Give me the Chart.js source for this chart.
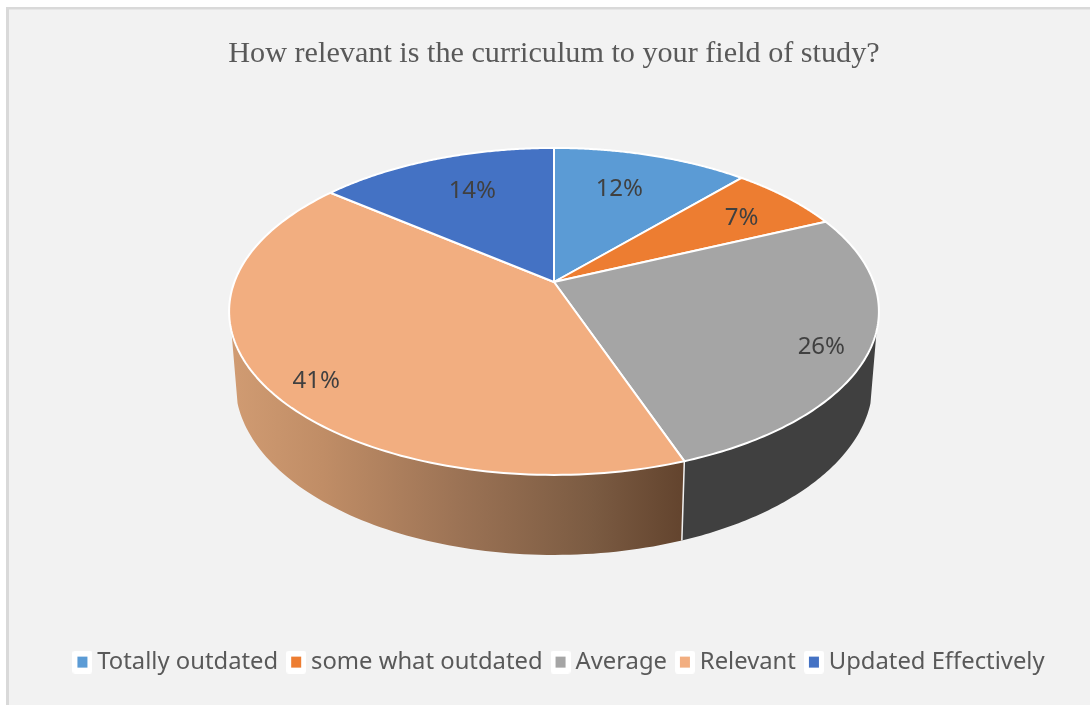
<!DOCTYPE html>
<html>
<head>
<meta charset="utf-8">
<style>
html,body{margin:0;padding:0;background:#fff;}
#wrap{position:absolute;left:0;top:0;width:1090px;height:705px;}
</style>
<script src="https://cdn.jsdelivr.net/npm/chart.js@4"></script>
</head>
<body>
<div id="wrap"><canvas id="c" width="1090" height="705"></canvas></div>
<script>
const chartTitle = "How relevant is the curriculum to your field of study?";
const categories = ["Totally outdated", "some what outdated", "Average", "Relevant", "Updated Effectively"];
const values = [11.6, 6.7, 26.2, 41.3, 14.2];
const sliceColors = ["#5b9bd5", "#ed7d31", "#a5a5a5", "#f2ae80", "#4472c4"];

const view = {cx: 554, topY: 282, topA: 158.2, topB: 319.6, baseY: 352, baseA: 166.4, baseB: 313.5, k: 0.18};
const rimFrom = 107 * Math.PI / 180, rimTo = 253 * Math.PI / 180;
const labelFont = '24px "Noto Sans"';
const labelSpots = [[0.7, -6, 0], [0.77, 4, 3], [0.8, 18, 13], [0.85, 5, 14], [0.7, 5, -1]];

function project(theta, r, y0, A, B) {
  const u = r * Math.sin(theta), v = -r * Math.cos(theta), d = 1 - view.k * v;
  return [view.cx + B * u / d, y0 + A * v / d];
}
const topPt = (t, r = 1) => project(t, r, view.topY, view.topA, view.topB);
const basePt = t => project(t, 1, view.baseY, view.baseA, view.baseB);

function rimFill(ctx, i) {
  if (i !== 3) return "#404040";
  const g = ctx.createLinearGradient(233, 0, 682, 0);
  g.addColorStop(0, "#d09b72");
  g.addColorStop(0.2, "#c08d66");
  g.addColorStop(0.5, "#9c7355");
  g.addColorStop(0.8, "#7b5b42");
  g.addColorStop(1, "#63442e");
  return g;
}

const pie3d = {
  id: "pie3d",
  beforeDraw(chart) {
    const {ctx, width, height} = chart;
    ctx.save();
    ctx.fillStyle = "#f2f2f2";
    ctx.fillRect(7, 8, width - 7, height - 8);
    ctx.fillStyle = "#d9d9d9";
    ctx.fillRect(6, 7, width - 6, 2.5);
    ctx.fillRect(6, 7, 3, height - 7);
    ctx.restore();
  },
  afterLayout(chart) {
    chart.legend.left += 17; chart.legend.right += 17;
    chart.titleBlock.left += 9; chart.titleBlock.right += 9;
  },
  beforeDatasetDraw(chart, args) {
    const {ctx} = chart, arcs = chart.getDatasetMeta(args.index).data;
    const span = a => [a.startAngle + Math.PI / 2, a.endAngle + Math.PI / 2];
    ctx.save();
    ctx.lineJoin = "round";
    arcs.forEach((a, i) => {
      const [s0, e0] = span(a), s = Math.max(s0, rimFrom), e = Math.min(e0, rimTo);
      if (e <= s) return;
      ctx.beginPath();
      for (let n = 0; n <= 80; n++) ctx.lineTo(...topPt(s + (e - s) * n / 80));
      for (let n = 80; n >= 0; n--) ctx.lineTo(...basePt(s + (e - s) * n / 80));
      ctx.closePath();
      ctx.fillStyle = rimFill(ctx, i);
      ctx.fill();
      if (s0 >= rimFrom && s0 <= rimTo) {
        ctx.beginPath(); ctx.moveTo(...topPt(s0)); ctx.lineTo(...basePt(s0));
        ctx.strokeStyle = "#f2f2f2"; ctx.lineWidth = 1.5; ctx.stroke();
      }
    });
    arcs.forEach((a, i) => {
      const [s, e] = span(a);
      ctx.beginPath();
      ctx.moveTo(...topPt(s, 0));
      for (let n = 0; n <= 120; n++) ctx.lineTo(...topPt(s + (e - s) * n / 120));
      ctx.closePath();
      ctx.fillStyle = sliceColors[i];
      ctx.fill();
      ctx.strokeStyle = "#ffffff"; ctx.lineWidth = 2; ctx.stroke();
    });
    const total = values.reduce((p, q) => p + q, 0);
    ctx.font = labelFont; ctx.fillStyle = "#404040";
    ctx.textAlign = "center"; ctx.textBaseline = "middle";
    arcs.forEach((a, i) => {
      const [s, e] = span(a), [r, dx, dy] = labelSpots[i], p = topPt((s + e) / 2, r);
      ctx.fillText(Math.round(values[i] / total * 100) + "%", p[0] + dx, p[1] + dy);
    });
    ctx.restore();
    return false;
  }
};

function legendIcon(color) {
  const c = document.createElement("canvas");
  c.width = 20; c.height = 23;
  const x = c.getContext("2d");
  x.fillStyle = "#ffffff";
  x.beginPath(); x.roundRect(0, 0, 20, 23, 3); x.fill();
  x.fillStyle = color;
  x.fillRect(5, 6, 10, 11);
  return c;
}

new Chart(document.getElementById("c"), {
  type: "pie",
  data: {labels: categories, datasets: [{data: values, backgroundColor: sliceColors, borderColor: "#ffffff"}]},
  plugins: [pie3d],
  options: {
    responsive: false,
    animation: false,
    layout: {padding: {top: 20, bottom: 21}},
    plugins: {
      tooltip: {enabled: false},
      title: {
        display: true, text: chartTitle, color: "#595959",
        font: {family: '"Liberation Serif"', size: 30.2, weight: "normal"},
        padding: {top: 16, bottom: 20}
      },
      legend: {
        position: "bottom",
        labels: {
          font: {family: '"Noto Sans"', size: 23.8},
          color: "#595959",
          usePointStyle: true, pointStyleWidth: 6, padding: 15,
          generateLabels: () => categories.map((t, i) => ({
            text: t, pointStyle: legendIcon(sliceColors[i]), fontColor: "#595959", lineWidth: 0,
            strokeStyle: "transparent", fillStyle: sliceColors[i], index: i
          }))
        }
      }
    }
  }
});
</script>
</body>
</html>
